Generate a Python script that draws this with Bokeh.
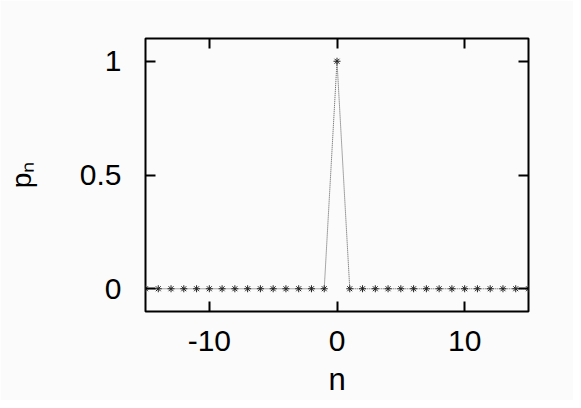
from bokeh.plotting import figure
from bokeh.models import FixedTicker, LinearAxis, CustomLabelingPolicy
from bokeh.embed import file_html
from bokeh.resources import INLINE

# data
n_vals = [-15, -14, -13, -12, -11, -10, -9, -8, -7, -6, -5, -4, -3, -2, -1, 0,
          1, 2, 3, 4, 5, 6, 7, 8, 9, 10, 11, 12, 13, 14, 15]
p_vals = [0, 0, 0, 0, 0, 0, 0, 0, 0, 0, 0, 0, 0, 0, 0, 1,
          0, 0, 0, 0, 0, 0, 0, 0, 0, 0, 0, 0, 0, 0, 0]
x_ticks = [-10, 0, 10]
x_tick_labels = ["-10", "0", "10"]
y_ticks = [0, 0.5, 1]
y_tick_labels = ["0", "0.5", "1"]
x_title = "n"
y_title = "p\u2099"

FONT = "Liberation Sans"
BG = "#fbfbfb"

p = figure(width=573, height=400, x_range=(-15, 15), y_range=(-0.1, 1.1),
           output_backend="svg", toolbar_location=None,
           min_border_left=145, min_border_right=44,
           min_border_top=38, min_border_bottom=89,
           x_axis_location=None, y_axis_location=None)
p.background_fill_color = BG
p.border_fill_color = BG
p.outline_line_color = "black"
p.outline_line_width = 2
p.grid.visible = False

hide_all = CustomLabelingPolicy(code="""
const all = [...indices]
for (const i of all) { indices.unset(i) }
return indices
""")


def make_axis(ticks, labels, show_labels):
    ax = LinearAxis(ticker=FixedTicker(ticks=ticks))
    ax.major_label_overrides = {t: l for t, l in zip(ticks, labels)}
    ax.axis_line_color = None
    ax.major_tick_line_color = "black"
    ax.major_tick_line_width = 2
    ax.major_tick_in = 10
    ax.major_tick_out = 0
    ax.minor_tick_line_color = None
    ax.major_label_text_font = FONT
    ax.major_label_text_color = "black"
    ax.major_label_text_font_size = "30px"
    if not show_labels:
        ax.major_label_policy = hide_all
        ax.major_label_standoff = 0
    return ax


xb = make_axis(x_ticks, x_tick_labels, True)
xb.major_label_standoff = 19
xb.axis_label = x_title
xb.axis_label_text_font = FONT
xb.axis_label_text_font_style = "normal"
xb.axis_label_text_font_size = "31px"
xb.axis_label_text_color = "black"
xb.axis_label_standoff = 8

yl = make_axis(y_ticks, y_tick_labels, True)
yl.major_label_standoff = 24
yl.axis_label = y_title
yl.axis_label_text_font = FONT
yl.axis_label_text_font_style = "normal"
yl.axis_label_text_font_size = "28px"
yl.axis_label_text_color = "black"
yl.axis_label_standoff = 40

xt = make_axis(x_ticks, x_tick_labels, False)
yr = make_axis(y_ticks, y_tick_labels, False)
p.add_layout(xb, "below")
p.add_layout(yl, "left")
p.add_layout(xt, "above")
p.add_layout(yr, "right")

p.line(n_vals, p_vals, line_color="#555555", line_width=1, line_dash="1 1")
p.scatter(n_vals, p_vals, marker="asterisk", size=7, line_color="#222222",
          line_width=1)

open("out.html", "w").write(file_html(p, INLINE))
